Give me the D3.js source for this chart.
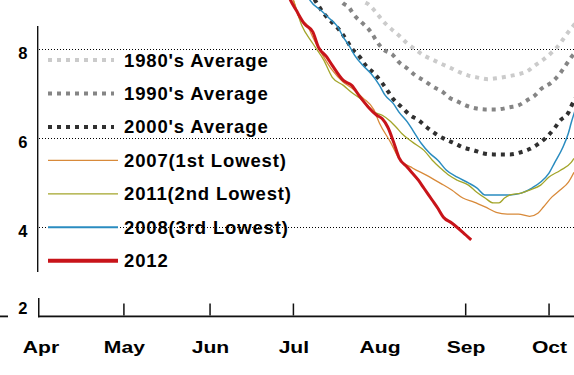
<!DOCTYPE html>
<html>
<head>
<meta charset="utf-8">
<script src="https://cdn.jsdelivr.net/npm/d3@7"></script>
<style>
  html, body { margin: 0; padding: 0; background: #fff; }
  svg { display: block; }
  text { font-family: "Liberation Sans", Arial, Helvetica, sans-serif; font-weight: bold; fill: #000; }
</style>
</head>
<body>
<svg id="chart" width="574" height="375"></svg>
<script>
// ---- Data (sea ice extent, million sq km) ----
const monthLabels = ["Apr", "May", "Jun", "Jul", "Aug", "Sep", "Oct"];
const monthDates = ["04-01", "05-01", "06-01", "07-01", "08-01", "09-01", "10-01"];
const yTicks = [2, 4, 6, 8];

const dates1980s = ["07-24","07-26","07-28","07-31","08-02","08-05","08-08","08-11","08-14","08-17","08-20","08-23","08-27","08-30","09-02","09-05","09-09","09-12","09-16","09-20","09-23","09-26","09-29","10-02","10-05","10-07","10-09","10-11"];
const ext1980s   = [9.4, 9.10, 9.01, 8.81, 8.65, 8.47, 8.31, 8.13, 7.99, 7.86, 7.77, 7.68, 7.57, 7.48, 7.41, 7.37, 7.33, 7.35, 7.39, 7.44, 7.50, 7.64, 7.77, 7.93, 8.13, 8.31, 8.47, 8.62];

const dates1990s = ["07-16","07-18","07-21","07-23","07-26","07-29","07-31","08-02","08-06","08-08","08-11","08-14","08-17","08-20","08-24","08-26","08-29","09-01","09-05","09-08","09-12","09-17","09-20","09-23","09-26","09-28","10-02","10-05","10-07","10-09","10-11"];
const ext1990s   = [9.4, 9.10, 8.94, 8.76, 8.58, 8.38, 8.18, 8.02, 7.86, 7.71, 7.57, 7.41, 7.30, 7.17, 7.03, 6.92, 6.83, 6.74, 6.67, 6.65, 6.65, 6.70, 6.74, 6.85, 6.97, 7.10, 7.26, 7.46, 7.64, 7.82, 7.97];

const dates2000s = ["07-07","07-10","07-12","07-15","07-18","07-20","07-22","07-25","07-27","07-30","08-02","08-04","08-06","08-09","08-12","08-15","08-18","08-21","08-24","08-28","08-31","09-04","09-07","09-11","09-14","09-17","09-21","09-24","09-27","09-30","10-03","10-05","10-08","10-09","10-11"];
const ext2000s   = [9.3, 8.98, 8.80, 8.60, 8.40, 8.22, 8.02, 7.82, 7.64, 7.46, 7.24, 7.06, 6.88, 6.70, 6.52, 6.41, 6.25, 6.11, 6.00, 5.89, 5.80, 5.73, 5.67, 5.64, 5.64, 5.64, 5.69, 5.76, 5.87, 6.02, 6.23, 6.40, 6.58, 6.72, 6.95];

const dates2007 = ["06-28","07-01","07-03","07-06","07-08","07-12","07-15","07-19","07-22","07-26","07-30","08-01","08-05","08-08","08-13","08-18","08-23","08-27","08-31","09-04","09-08","09-12","09-16","09-20","09-24","09-27","09-29","10-02","10-05","10-08","10-10"];
const ext2007   = [9.5, 9.10, 8.72, 8.54, 8.27, 7.82, 7.53, 7.26, 7.13, 6.91, 6.64, 6.34, 5.91, 5.55, 5.33, 5.17, 4.99, 4.84, 4.66, 4.57, 4.46, 4.34, 4.30, 4.30, 4.25, 4.32, 4.46, 4.68, 4.84, 5.02, 5.24];

const dates2011 = ["06-28","07-01","07-04","07-08","07-12","07-15","07-19","07-22","07-26","07-30","08-02","08-05","08-07","08-09","08-13","08-17","08-20","08-23","08-26","08-29","09-02","09-05","09-08","09-11","09-13","09-15","09-17","09-21","09-24","09-28","10-01","10-05","10-09","10-10"];
const ext2011   = [9.5, 9.10, 8.54, 8.13, 7.75, 7.37, 7.19, 7.03, 6.85, 6.59, 6.52, 6.38, 6.25, 6.11, 5.91, 5.73, 5.51, 5.33, 5.17, 5.06, 4.95, 4.79, 4.66, 4.55, 4.55, 4.66, 4.73, 4.77, 4.84, 4.95, 5.13, 5.28, 5.46, 5.55];

const dates2008 = ["07-04","07-07","07-11","07-14","07-17","07-19","07-21","07-23","07-26","07-29","08-01","08-03","08-06","08-08","08-11","08-13","08-16","08-19","08-22","08-25","08-29","09-02","09-05","09-08","09-12","09-17","09-21","09-25","09-28","10-01","10-03","10-06","10-08","10-09","10-11"];
const ext2008   = [9.5, 9.10, 8.87, 8.69, 8.50, 8.27, 8.09, 7.87, 7.64, 7.45, 7.19, 6.97, 6.78, 6.59, 6.37, 6.18, 5.89, 5.67, 5.51, 5.29, 5.13, 5.00, 4.89, 4.73, 4.73, 4.73, 4.77, 4.89, 5.02, 5.22, 5.45, 5.80, 6.12, 6.35, 6.75];

const dates2012 = ["06-27","06-30","07-02","07-05","07-08","07-10","07-13","07-15","07-19","07-22","07-25","07-28","07-31","08-02","08-04","08-06","08-08","08-11","08-15","08-17","08-20","08-22","08-24","08-27","08-31","09-03"];
const ext2012   = [9.6, 9.10, 8.88, 8.57, 8.39, 8.05, 7.83, 7.64, 7.30, 7.19, 6.93, 6.70, 6.52, 6.44, 6.25, 5.93, 5.57, 5.35, 5.06, 4.88, 4.61, 4.43, 4.23, 4.10, 3.89, 3.72];

const seriesNames  = ["1980's Average", "1990's Average", "2000's Average", "2007(1st Lowest)", "2011(2nd Lowest)", "2008(3rd Lowest)", "2012"];
const seriesDates  = [dates1980s, dates1990s, dates2000s, dates2007, dates2011, dates2008, dates2012];
const seriesValues = [ext1980s, ext1990s, ext2000s, ext2007, ext2011, ext2008, ext2012];

// ---- Styles ----
const styles = [
  { color: "#cbcbcb", width: 4, dash: "4,5", lw: 4 },
  { color: "#858585", width: 4, dash: "4,5", lw: 4 },
  { color: "#303030", width: 4, dash: "4,5", lw: 4 },
  { color: "#d88a3a", width: 1.3, dash: null, lw: 1.3 },
  { color: "#a3a52a", width: 1.3, dash: null, lw: 1.3 },
  { color: "#2a8cc0", width: 1.5, dash: null, lw: 2.2 },
  { color: "#c8141a", width: 3, dash: null, lw: 4 }
];
const drawOrder = [0, 1, 2, 5, 4, 3, 6];

const parse = d3.timeParse("%Y-%m-%d");
const toDate = md => parse("2012-" + md);

const svg = d3.select("#chart");
const x = d3.scaleTime().domain([toDate("04-01"), toDate("10-01")]).range([40.5, 549]);
const y = d3.scaleLinear().domain([2, 8]).range([316.5, 49.3]);

const axisX = 38, baseY = 315.5, rightX = 574;

svg.append("defs").append("clipPath").attr("id", "plotclip")
  .append("rect").attr("x", axisX).attr("y", 0).attr("width", rightX - axisX).attr("height", baseY);

// gridlines
svg.append("g").selectAll("line").data(yTicks.filter(v => v !== 2)).join("line")
  .attr("x1", 39).attr("x2", rightX)
  .attr("y1", d => Math.round(y(d)) + 0.5).attr("y2", d => Math.round(y(d)) + 0.5)
  .attr("stroke", "#000").attr("stroke-width", 1).attr("stroke-dasharray", "1,2");

// series lines
const line = d3.line().x(d => x(d.date)).y(d => y(d.v)).curve(d3.curveMonotoneX);
const gLines = svg.append("g").attr("clip-path", "url(#plotclip)");
drawOrder.forEach(i => {
  const pts = seriesDates[i].map((md, k) => ({ date: toDate(md), v: seriesValues[i][k] }));
  gLines.append("path").datum(pts)
    .attr("d", line)
    .attr("fill", "none")
    .attr("stroke", styles[i].color)
    .attr("stroke-width", styles[i].width)
    .attr("stroke-dasharray", styles[i].dash)
    .attr("stroke-linejoin", "round");
});

// axis frame drawn as filled rects: broken y axis, baseline, month ticks
const frame = svg.append("g").attr("fill", "#111");
frame.append("rect").attr("x", 37).attr("y", 26).attr("width", 1.4).attr("height", 246);   // upper y axis
frame.append("rect").attr("x", 38).attr("y", 298).attr("width", 1.5).attr("height", baseY - 298 + 1.8); // lower y axis
frame.append("rect").attr("x", 38).attr("y", baseY).attr("width", rightX - 38).attr("height", 1.8);      // baseline
frame.append("rect").attr("x", 0).attr("y", baseY).attr("width", 8).attr("height", 1.8);                 // stub at left
frame.selectAll("rect.tick")
  .data(monthDates.filter((md, i) => i !== 0 && monthLabels[i] !== "Aug").map(toDate))
  .join("rect").attr("class", "tick")
  .attr("x", d => x(d) - 0.7).attr("y", baseY - 12)
  .attr("width", 1.5).attr("height", 12);

// y tick labels
const yAxis = d3.axisLeft(y).tickValues(yTicks).tickSize(0).tickPadding(10).tickFormat(d3.format("d"));
const gy = svg.append("g").attr("transform", `translate(${37.5},0)`).call(yAxis);
gy.select(".domain").remove();
gy.selectAll("text")
  .style("font-family", "'Liberation Sans', Arial, sans-serif")
  .style("font-weight", "bold").style("font-size", "16.5px").attr("fill", "#000")
  .attr("dy", d => d === 2 ? "-0.2em" : "0.55em");

// x axis labels
const xAxis = d3.axisBottom(x).tickValues(monthDates.map(toDate))
  .tickSize(0).tickPadding(26)
  .tickFormat((d, i) => monthLabels[i]);
const gx = svg.append("g").attr("transform", `translate(0,${baseY})`).call(xAxis);
gx.select(".domain").remove();
gx.selectAll(".tick line").remove();
gx.selectAll(".tick text")
  .style("font-family", "'Liberation Sans', Arial, sans-serif")
  .style("font-weight", "bold").style("font-size", "16px").attr("fill", "#000")
  .attr("transform", "scale(1.32,1)");

// legend
const legend = svg.append("g");
seriesNames.forEach((name, i) => {
  const ly = 60 + i * 33.45;
  const s = styles[i];
  legend.append("line")
    .attr("x1", 48).attr("x2", s.dash ? 114 : 118).attr("y1", ly).attr("y2", ly)
    .attr("stroke", s.color).attr("stroke-width", s.lw)
    .attr("stroke-dasharray", s.dash);
  legend.append("text")
    .attr("x", 124).attr("y", ly + 6.5)
    .style("font-size", "18.5px").style("letter-spacing", "0.85px")
    .text(name);
});
</script>
</body>
</html>
